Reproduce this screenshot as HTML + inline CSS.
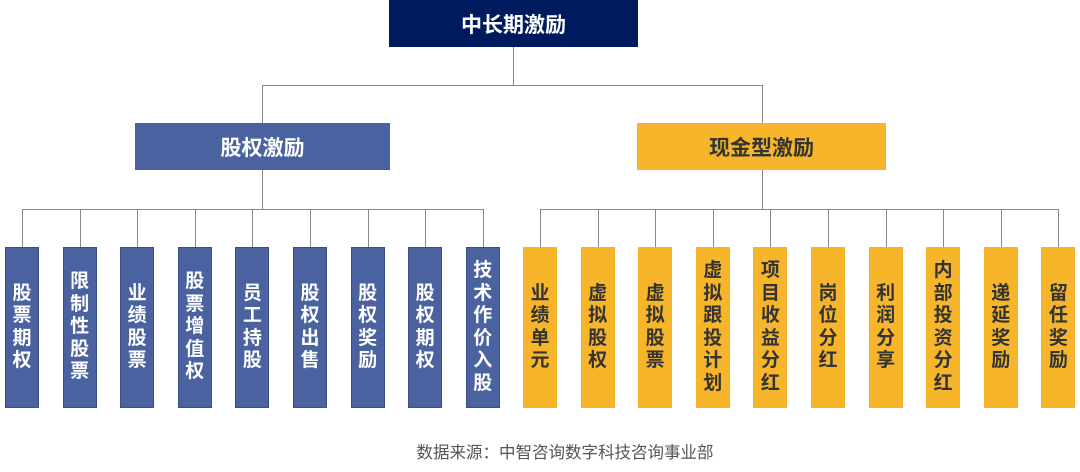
<!DOCTYPE html>
<html><head><meta charset="utf-8"><style>
body{margin:0;width:1080px;height:472px;background:#fff;position:relative;overflow:hidden;font-family:"Liberation Sans","Noto Sans CJK SC",sans-serif;}
.b{position:absolute;display:flex;align-items:center;justify-content:center;font-weight:bold;box-sizing:border-box;}
.l{position:absolute;background:#888;}
.leaf{top:247px;height:161px;width:34px;flex-direction:column;font-size:19px;line-height:22.5px;text-align:center;}
.bl{background:#4a62a0;color:#fff;border:1px solid #3a4f88;}
.gd{background:#f6b52a;color:#333;}
</style></head><body>
<div class="b" style="left:389px;top:0;width:249px;height:47px;background:#001a5e;color:#fff;font-size:21px;">中长期激励</div>
<div class="b" style="left:135px;top:123px;width:255px;height:47px;background:#4a62a0;color:#fff;font-size:21px;">股权激励</div>
<div class="b" style="left:637px;top:123px;width:249px;height:47px;background:#f6b52a;color:#333;font-size:21px;">现金型激励</div>
<div class="l" style="left:513px;top:47px;width:1px;height:38px"></div>
<div class="l" style="left:262px;top:85px;width:500px;height:1px"></div>
<div class="l" style="left:262px;top:85px;width:1px;height:38px"></div>
<div class="l" style="left:762px;top:85px;width:1px;height:38px"></div>
<div class="l" style="left:262px;top:170px;width:1px;height:39px"></div>
<div class="l" style="left:762px;top:170px;width:1px;height:39px"></div>
<div class="l" style="left:22px;top:209px;width:461px;height:1px"></div>
<div class="l" style="left:540px;top:209px;width:519px;height:1px"></div>
<div id="c"></div>
<div style="position:absolute;left:25px;width:1080px;top:439px;text-align:center;font-size:16.5px;color:#555;">数据来源：中智咨询数字科技咨询事业部</div>
<script>
var L=["股票期权","限制性股票","业绩股票","股票增值权","员工持股","股权出售","股权奖励","股权期权","技术作价入股"];
var R=["业绩单元","虚拟股权","虚拟股票","虚拟跟投计划","项目收益分红","岗位分红","利润分享","内部投资分红","递延奖励","留任奖励"];
var h="";
L.forEach(function(t,i){var x=5+i*57.6;h+='<div class="l" style="left:'+Math.round(x+17)+'px;top:209px;width:1px;height:38px"></div><div class="b leaf bl" style="left:'+x+'px">'+t.split("").join("<br>")+'</div>';});
R.forEach(function(t,i){var x=523+i*57.6;h+='<div class="l" style="left:'+Math.round(x+17)+'px;top:209px;width:1px;height:38px"></div><div class="b leaf gd" style="left:'+x+'px">'+t.split("").join("<br>")+'</div>';});
document.getElementById("c").innerHTML=h;
</script>
</body></html>
